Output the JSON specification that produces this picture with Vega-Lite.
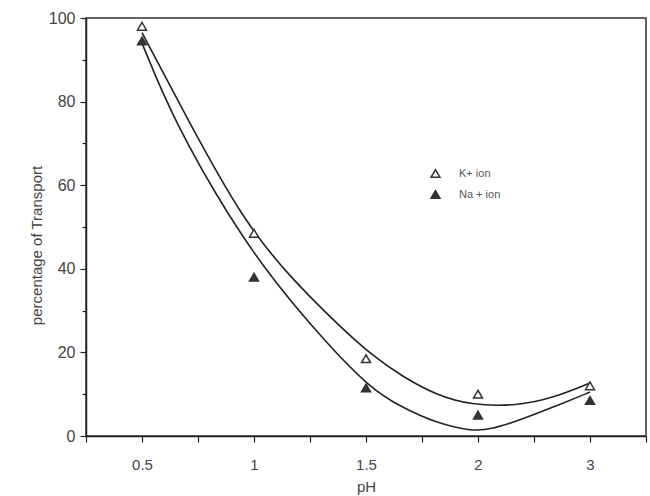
{
  "$schema": "https://vega.github.io/schema/vega-lite/v6.json",
  "width": 560,
  "height": 418,
  "autosize": "none",
  "padding": {"left": 86, "top": 18, "right": 4, "bottom": 60},
  "background": "white",
  "config": {
    "view": {"stroke": "#333", "strokeWidth": 1.5},
    "font": "Liberation Sans",
    "axis": {"labelFont": "Liberation Sans", "titleFont": "Liberation Sans", "labelColor": "#444", "titleColor": "#444", "domainColor": "#222", "domainWidth": 1.5, "tickColor": "#222", "tickWidth": 1.2, "grid": false}
  },
  "datasets": {
    "points": [
      {"pos": 1, "ph": "0.5", "ion": "K+ ion", "pct": 98},
      {"pos": 2, "ph": "1", "ion": "K+ ion", "pct": 48.5},
      {"pos": 3, "ph": "1.5", "ion": "K+ ion", "pct": 18.5},
      {"pos": 4, "ph": "2", "ion": "K+ ion", "pct": 10},
      {"pos": 5, "ph": "3", "ion": "K+ ion", "pct": 12},
      {"pos": 1, "ph": "0.5", "ion": "Na + ion", "pct": 94.5},
      {"pos": 2, "ph": "1", "ion": "Na + ion", "pct": 38},
      {"pos": 3, "ph": "1.5", "ion": "Na + ion", "pct": 11.5},
      {"pos": 4, "ph": "2", "ion": "Na + ion", "pct": 5},
      {"pos": 5, "ph": "3", "ion": "Na + ion", "pct": 8.5}
    ],
    "curves": [
      {"pos": 1.0, "ion": "K+ ion", "pct": 96.5},
      {"pos": 1.41, "ion": "K+ ion", "pct": 75.6},
      {"pos": 1.9, "ion": "K+ ion", "pct": 51.7},
      {"pos": 2.32, "ion": "K+ ion", "pct": 38.0},
      {"pos": 2.77, "ion": "K+ ion", "pct": 26.1},
      {"pos": 3.04, "ion": "K+ ion", "pct": 19.6},
      {"pos": 3.33, "ion": "K+ ion", "pct": 14.1},
      {"pos": 3.63, "ion": "K+ ion", "pct": 9.8},
      {"pos": 3.93, "ion": "K+ ion", "pct": 7.4},
      {"pos": 4.35, "ion": "K+ ion", "pct": 7.2},
      {"pos": 4.67, "ion": "K+ ion", "pct": 9.1},
      {"pos": 5.0, "ion": "K+ ion", "pct": 12.7},
      {"pos": 1.0, "ion": "Na + ion", "pct": 94},
      {"pos": 1.28, "ion": "Na + ion", "pct": 75.6},
      {"pos": 1.79, "ion": "Na + ion", "pct": 51.7},
      {"pos": 2.17, "ion": "Na + ion", "pct": 37.3},
      {"pos": 2.62, "ion": "Na + ion", "pct": 23.0},
      {"pos": 3.04, "ion": "Na + ion", "pct": 11.3},
      {"pos": 3.33, "ion": "Na + ion", "pct": 6.7},
      {"pos": 3.63, "ion": "Na + ion", "pct": 3.1},
      {"pos": 3.93, "ion": "Na + ion", "pct": 1.2},
      {"pos": 4.11, "ion": "Na + ion", "pct": 1.5},
      {"pos": 4.375, "ion": "Na + ion", "pct": 3.8},
      {"pos": 4.67, "ion": "Na + ion", "pct": 6.9},
      {"pos": 5.0, "ion": "Na + ion", "pct": 10.5}
    ]
  },
  "layer": [
    {
      "data": {"name": "curves"},
      "mark": {"type": "line", "interpolate": "basis", "color": "#222", "strokeWidth": 1.6},
      "encoding": {
        "x": {"field": "pos", "type": "quantitative", "scale": {"domain": [0.5, 5.5], "nice": false, "zero": false},
          "axis": {"values": [0.5, 1, 1.5, 2, 2.5, 3, 3.5, 4, 4.5, 5, 5.5], "tickSize": 6, "labelFontSize": 15, "labelPadding": 15,
            "labelExpr": "datum.value == 1 ? '0.5' : datum.value == 2 ? '1' : datum.value == 3 ? '1.5' : datum.value == 4 ? '2' : datum.value == 5 ? '3' : ''",
            "title": "pH", "titleFontSize": 15, "titleFontWeight": "normal", "titleY": 50, "titleBaseline": "middle"}},
        "y": {"field": "pct", "type": "quantitative", "scale": {"domain": [0, 100], "nice": false},
          "axis": {"values": [0, 10, 20, 30, 40, 50, 60, 70, 80, 90, 100],
            "tickSize": {"condition": {"test": "datum.value % 20 == 0", "value": 6}, "value": 4},
            "labelExpr": "datum.value % 20 == 0 ? datum.label : ''",
            "labelFontSize": 16, "labelPadding": 5,
            "title": "percentage of Transport", "titleFontSize": 15, "titleFontWeight": "normal", "titleX": -50, "titleY": 227, "titleBaseline": "middle", "titleAngle": -90, "titleAlign": "center"}},
        "detail": {"field": "ion"}
      }
    },
    {
      "data": {"name": "points"},
      "mark": {"type": "point", "shape": "triangle-up", "filled": true, "size": 80, "stroke": "#333", "strokeWidth": 1.5, "opacity": 1},
      "encoding": {
        "x": {"field": "pos", "type": "quantitative"},
        "y": {"field": "pct", "type": "quantitative"},
        "fill": {"field": "ion", "type": "nominal", "scale": {"domain": ["K+ ion", "Na + ion"], "range": ["white", "#333"]},
          "legend": {"title": null, "orient": "none", "legendX": 344, "legendY": 150, "symbolType": "triangle-up", "symbolSize": 80,
            "symbolStrokeColor": "#333", "symbolStrokeWidth": 1.5, "labelFontSize": 11, "labelColor": "#555", "labelOffset": 18, "rowPadding": 6}}
      }
    }
  ]
}
